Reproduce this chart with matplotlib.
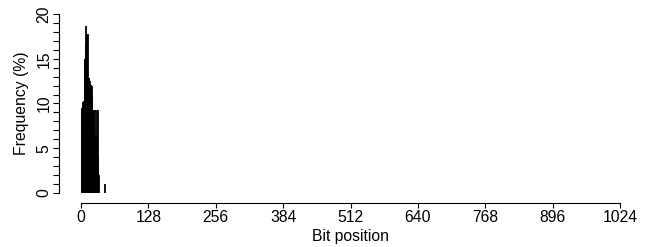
import numpy as np
import matplotlib
matplotlib.use("Agg")
import matplotlib.pyplot as plt

# frequency (%) per bit position
bits = list(range(0, 35)) + [46]
freq = [9.3, 9.3, 9.5, 10.2, 10.2, 10.3, 10.3, 14.9, 15.0, 18.7,
        16.5, 15.5, 17.8, 17.8, 12.8, 12.8, 12.8, 12.5, 12.1, 12.1,
        12.0, 11.0, 9.3, 9.3, 9.3, 9.3, 9.3, 2.8, 6.5, 5.0,
        6.0, 9.3, 9.3, 4.0, 2.0, 1.0]

xticks = [0, 128, 256, 384, 512, 640, 768, 896, 1024]
yticks_major = [0, 5, 10, 15, 20]

plt.rcParams['font.family'] = ['Liberation Sans', 'DejaVu Sans']
plt.rcParams['font.size'] = 11.3

fig = plt.figure(figsize=(6.52, 2.47), dpi=100)
ax = fig.add_axes([81/652, 54/247, 539/652, 179/247])

ax.vlines(bits, 0, freq, colors='black', linewidth=1.3)

ax.set_xlim(0, 1024)
ax.set_ylim(0, 20)

for s in ['top', 'right']:
    ax.spines[s].set_visible(False)
ax.spines['left'].set_position(('outward', 16))
ax.spines['bottom'].set_position(('outward', 7))
ax.spines['left'].set_bounds(0, 20)
ax.spines['bottom'].set_bounds(0, 1024)
for s in ['left', 'bottom']:
    ax.spines[s].set_linewidth(0.8)

ax.set_xticks(xticks)
ax.set_yticks(yticks_major)
ax.set_yticks(np.arange(0, 21, 1), minor=True)
ax.set_yticklabels([str(v) for v in yticks_major], rotation=90, va='center')
ax.tick_params(which='both', width=0.8, direction='out')
ax.tick_params(axis='y', which='both', length=4.3, pad=1)
ax.tick_params(axis='x', length=3.6, pad=1.5)

ax.set_xlabel('Bit position', labelpad=3)
ax.set_ylabel('Frequency (%)', labelpad=5)

fig.savefig('out.png', dpi=100)
